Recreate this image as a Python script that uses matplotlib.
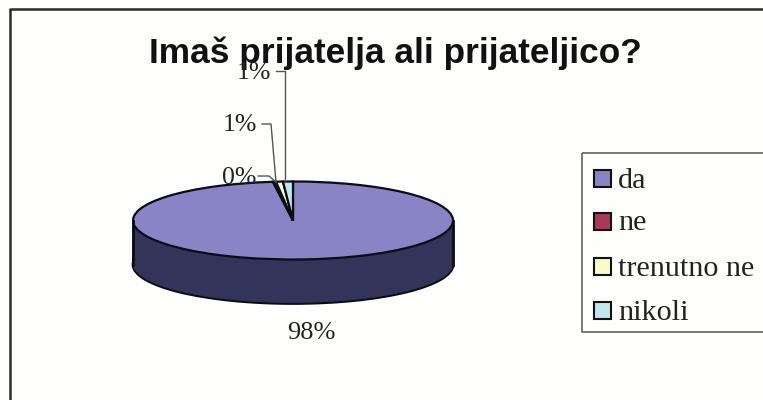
import matplotlib
matplotlib.use('Agg')
import numpy as np
import matplotlib.pyplot as plt
from matplotlib.patches import Rectangle

categories = ['da', 'ne', 'trenutno ne', 'nikoli']
values = [98.0, 0.3, 0.7, 1.0]
colors = ['#8884c6', '#a83a55', '#fbfbc8', '#bfe8ee']
side_color = '#33345a'

W, H = 763, 400
CX, CY, RX, RY = 293, 220.5, 160, 39
DEPTH = 44

plt.rcParams['font.family'] = ['Liberation Serif', 'DejaVu Serif']

fig = plt.figure(figsize=(W / 100, H / 100), dpi=100, facecolor='#fefefc')

# pie axes: one data unit = the ellipse radius, so the wedges come out squashed
ax = fig.add_axes([0, 0, 1, 1])
ax.pie([1], colors=[side_color], radius=1, center=(0, -DEPTH / RY),
       wedgeprops={'edgecolor': '#0c0c14', 'linewidth': 2})
for d in np.arange(DEPTH - 1, 0, -1):
    ax.pie([1], colors=[side_color], radius=1, center=(0, -d / RY),
           wedgeprops={'edgecolor': side_color, 'linewidth': 0.5})
ax.pie(values, colors=colors, startangle=90, counterclock=False, radius=1,
       wedgeprops={'edgecolor': '#0c0c14', 'linewidth': 1.6})
ax.set_aspect('auto')
ax.set_xlim(-CX / RX, (W - CX) / RX)
ax.set_ylim(-(H - CY) / RY, CY / RY)
ax.axis('off')

# overlay in pixel coordinates for frame, labels and legend
ov = fig.add_axes([0, 0, 1, 1], facecolor='none')
ov.set_xlim(0, W)
ov.set_ylim(H, 0)
ov.axis('off')

ov.plot([9.5, 9.5, 763], [400, 9, 9], color='#2a2a2a', lw=1.8)

# side edges of the disc
for x in [CX - RX, CX + RX]:
    ov.plot([x, x], [CY, CY + DEPTH], color='#0c0c14', lw=2)

ov.text(395, 53.5, 'Imaš prijatelja ali prijateljico?', family='Liberation Sans',
        weight='bold', fontsize=25.4, ha='center', va='center', color='#111111')

# leader lines
leaders = [([285, 285, 276], [182, 71, 71]),
           ([276, 271, 262], [182, 124, 124]),
           ([276, 269, 258], [182, 176, 176])]
for lx, ly in leaders:
    ov.plot(lx, ly, color='#555555', lw=1)

pct = ['%d%%' % round(v) for v in values]
ov.text(311, 333, pct[0], fontsize=19, ha='center', va='center', color='#222222')
ov.text(256, 178, pct[1], fontsize=18.5, ha='right', va='center', color='#222222')
ov.text(257, 125, pct[2], fontsize=18.5, ha='right', va='center', color='#222222')
ov.text(271, 73, pct[3], fontsize=18.5, ha='right', va='center', color='#222222')

# legend
ov.add_patch(Rectangle((582, 153), 190, 179, fc='none', ec='#555555', lw=1.1))
leg_y = [178.5, 221.5, 266.5, 310.5]
for name, col, y in zip(categories, colors, leg_y):
    ov.add_patch(Rectangle((594, y - 8.5), 17, 17, fc=col, ec='#111111', lw=1.5))
    ov.text(618, y + 2, name, fontsize=21.7, ha='left', va='center', color='#222222')

fig.savefig('out.png', dpi=100, facecolor=fig.get_facecolor())
